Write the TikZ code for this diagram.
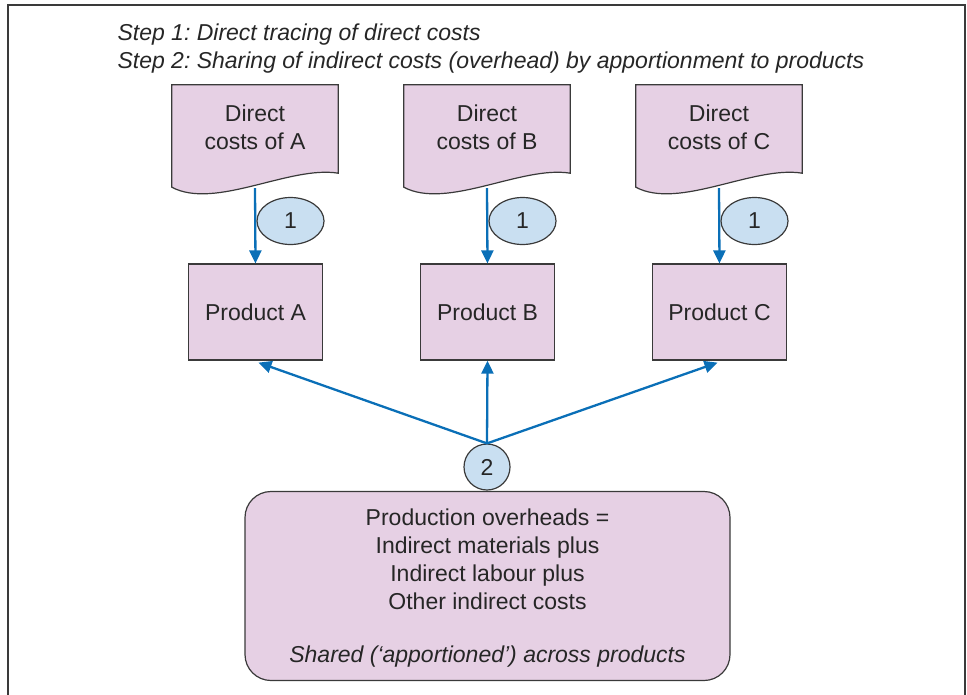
\documentclass[tikz,border=0pt]{standalone}
\usepackage{fontspec}
\setmainfont{Liberation Sans}
\usetikzlibrary{arrows.meta,calc,shapes.geometric}
\definecolor{pinkfill}{HTML}{E6D0E4}
\definecolor{bluefill}{HTML}{C9DFF1}
\definecolor{arrowblue}{HTML}{0A6FB7}
\definecolor{edge}{HTML}{3A3A3A}
\frenchspacing
\tikzset{
  txt/.style={font=\fontsize{23}{28}\selectfont, text=black!85},
  docbox/.style={txt, minimum width=166pt, minimum height=88pt, inner sep=0pt, align=center},
  docshape/.style={draw=edge, fill=pinkfill, line width=1.2pt},
  prodbox/.style={txt, draw=edge, fill=pinkfill, line width=1.2pt, minimum width=134pt, minimum height=96pt, inner sep=0pt},
  tag/.style={txt, ellipse, draw=edge, fill=bluefill, line width=1.2pt, minimum width=67pt, minimum height=47pt, inner sep=0pt},
  ctag/.style={txt, circle, draw=edge, fill=bluefill, line width=1.2pt, minimum size=46pt, inner sep=0pt},
  overbox/.style={txt, draw=edge, fill=pinkfill, line width=1.2pt, rounded corners=26pt, minimum width=485pt, minimum height=189pt, inner sep=0pt, align=center},
  flow/.style={draw=arrowblue, line width=2.3pt, -{Triangle[length=13pt,width=12pt]}},
}
\begin{document}
\begin{tikzpicture}[x=1pt,y=-1pt]
\useasboundingbox (0,0) rectangle (967,694);
\draw[edge, line width=1.2pt] (8,5) -- (965,5) -- (965,700) -- (8,700) -- cycle;
\node[txt, font=\fontsize{23}{28}\selectfont\itshape, anchor=west] (step1) at (114,35) {Step 1: Direct tracing of direct costs};
\node[txt, font=\fontsize{23}{28}\selectfont\itshape, anchor=west] (step2) at (114,63) {Step 2: Sharing of indirect costs (overhead) by apportionment to products};

% documents
\foreach \n/\cx/\l in {A/255/A, B/487/B, C/719/C}{
  \node[docbox] (doc\n) at (\cx,129) {};
  \path[docshape] (doc\n.north west) -- (doc\n.north east) -- (doc\n.south east)
    .. controls ($(doc\n.south)+(35,-8)$) and ($(doc\n.south)+(-40,37)$) .. ($(doc\n.south west)+(0,14)$) -- cycle;
  \node[docbox] at (\cx,127) {Direct\\costs of \l};
}

% products
\node[prodbox] (prodA) at (255.5,312) {\raisebox{-3pt}{Product A}};
\node[prodbox] (prodB) at (487.5,312) {\raisebox{-3pt}{Product B}};
\node[prodbox] (prodC) at (719.5,312) {\raisebox{-3pt}{Product C}};

% arrows step 1
\draw[flow] ($(docA.south)+(0,15)$) -- (prodA.north);
\draw[flow] ($(docB.south)+(0,15)$) -- (prodB.north);
\draw[flow] ($(docC.south)+(0,15)$) -- (prodC.north);

\node[tag] (oneA) at (290.5,221) {1};
\node[tag] (oneB) at (522.5,221) {1};
\node[tag] (oneC) at (754.5,221) {1};

% overhead box
\node[overbox] (over) at (487.5,586) {};
\node[txt, align=center, anchor=north] (overtxt) at (487.5,505) {Production overheads =\\Indirect materials plus\\Indirect labour plus\\Other indirect costs};
\node[txt, font=\fontsize{23}{28}\selectfont\itshape] (shared) at (487.5,657) {Shared (‘apportioned’) across products};

\node[ctag] (two) at (487,467) {2};
\coordinate (hub) at (two.north);
\draw[flow] (hub) -- ($(prodA.south)+(3,2)$);
\draw[flow] (hub) -- (prodB.south);
\draw[flow] (hub) -- ($(prodC.south)+(-2,2)$);
\end{tikzpicture}
\end{document}
